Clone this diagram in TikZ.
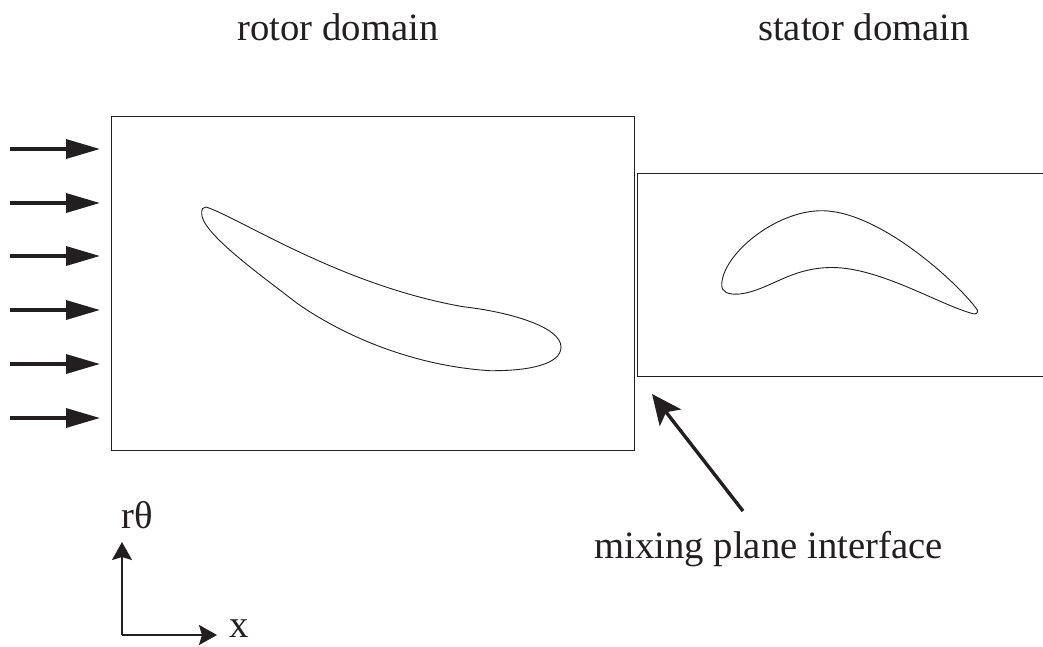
\documentclass[tikz,border=0pt]{standalone}
\usepackage{fontspec}
\setmainfont{Liberation Serif}
\usetikzlibrary{arrows.meta}
\definecolor{ink}{HTML}{231F20}
\tikzset{
  domainbox/.style={draw=ink,line width=0.9pt},
  blade/.style={draw=ink,line width=0.9pt},
  inlet/.style={draw=ink,line width=3.4pt,-{Triangle[length=34pt,width=19pt,fill=ink]}},
  pointer/.style={draw=ink,line width=3.4pt,-{Stealth[length=30pt,width=27pt,inset=7pt,fill=ink]}},
  axisline/.style={draw=ink,line width=2pt,-{Stealth[length=18pt,width=20pt,inset=3pt,fill=ink]}},
  label/.style={inner sep=0pt,anchor=base,text=ink,font=\fontsize{38.7}{42}\selectfont},
}
\begin{document}
\begin{tikzpicture}[x=1pt,y=-1pt]
\useasboundingbox (0,0) rectangle (1043,646);
\node[domainbox,inner sep=0pt,minimum width=523pt,minimum height=334pt] (rotor) at (372.5,283) {};
\draw[domainbox] (1044,173) -- (637,173) -- (637,376) -- (1044,376);
\draw[blade] (206,207) .. controls (240,218) and (340,285) .. (463,306.7)
  .. controls (510,312) and (561,327) .. (561,347)
  .. controls (561,364) and (530,371) .. (490,370.7)
  .. controls (415,366) and (345,337) .. (296.7,303)
  .. controls (262,276) and (200,232) .. (201.7,213)
  .. controls (201.5,209) and (203,207) .. (206,207) -- cycle;
\draw[blade] (821.7,210.7) .. controls (775,210.7) and (722,255) .. (721.7,285)
  .. controls (721.7,292) and (728,295) .. (740,294)
  .. controls (770,290) and (790,267.5) .. (832,267.5)
  .. controls (880,267.5) and (940,305) .. (973,313.7)
  .. controls (976,314.5) and (978,313) .. (977.3,310)
  .. controls (960,285) and (880,210.7) .. (821.7,210.7) -- cycle;
\foreach \i/\y in {1/149,2/203,3/256,4/310,5/364,6/418}{
  \coordinate (s\i) at (10,\y);
  \coordinate (e\i) at (100,\y);
  \draw[inlet] (s\i) -- (e\i);
}
\coordinate (pstart) at (743,511);
\coordinate (pend) at (652,394);
\draw[pointer] (pstart) -- (pend);
\coordinate (origin) at (122,635);
\coordinate (ytip) at (122,542);
\coordinate (xtip) at (217,635);
\draw[axisline] (origin) -- (ytip);
\draw[axisline] (origin) -- (xtip);
\node[label] (rotorlabel) at (338,40) {rotor domain};
\node[label] (statorlabel) at (864,40) {stator domain};
\node[label] (mixlabel) at (768.5,558) {mixing plane interface};
\node[label] (rtheta) at (137,528) {rθ};
\node[label] (xlabel) at (239,637) {x};
\end{tikzpicture}
\end{document}
